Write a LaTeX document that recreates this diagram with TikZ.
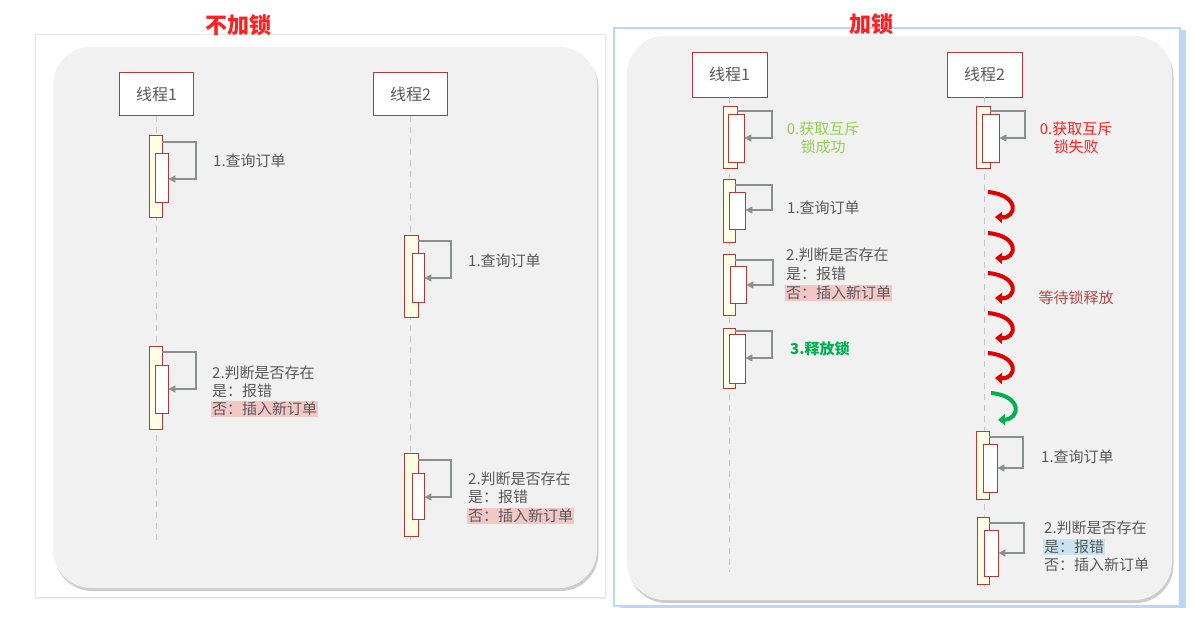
\documentclass[tikz,border=0pt]{standalone}
\usepackage{fontspec}
\setmainfont{Noto Sans CJK SC}
\usetikzlibrary{fit,shadows,arrows.meta}
\definecolor{txt}{HTML}{595959}
\definecolor{hdr}{HTML}{FF1F1F}
\definecolor{edge}{HTML}{B33A3A}
\definecolor{actbg}{HTML}{FFFDE3}
\definecolor{msg}{HTML}{8A8F8F}
\definecolor{panelbg}{HTML}{F1F1F1}
\definecolor{okgreen}{HTML}{92D050}
\definecolor{relgreen}{HTML}{00B050}
\definecolor{failred}{HTML}{FF2020}
\definecolor{waitred}{HTML}{E00000}
\definecolor{waitlbl}{HTML}{B5494A}
\definecolor{hlpink}{HTML}{F4C7C7}
\definecolor{hlblue}{HTML}{C8E4EF}
\definecolor{glow}{HTML}{BCD6F8}

\begin{document}
\begin{tikzpicture}[
  x=1pt,y=-1pt,
  every node/.style={text=txt},
  lbl/.style={font=\fontsize{15}{18}\selectfont,anchor=west,inner sep=1pt},
  thread/.style={rectangle,draw=edge,fill=white,line width=0.9pt,minimum width=74pt,minimum height=43pt,font=\fontsize{16}{18}\selectfont},
  callbox/.style={rectangle,draw=edge,fill=actbg,inner sep=0pt,line width=0.9pt},
  subbox/.style={rectangle,draw=edge,fill=white,inner sep=0pt,line width=0.9pt},
  lifeline/.style={draw=gray!45,dash pattern=on 6pt off 5pt,line width=1pt},
  selfmsg/.style={draw=msg,line width=1.3pt,-{Triangle[length=7pt,width=7pt]}},
  waitarr/.style={line width=4pt,-{Triangle[length=7pt,width=11pt]}},
  heading/.style={font=\fontsize{22}{24}\selectfont\bfseries,text=hdr},
  panel/.style={rectangle,rounded corners=38pt,fill=panelbg,inner sep=0pt,drop shadow={shadow xshift=1.5pt,shadow yshift=-3pt,opacity=0.4}}
]
\useasboundingbox (0,0) rectangle (1195,628);
\fill[white] (0,0) rectangle (1195,628);

% without lock
\node[rectangle,fill=white,draw=gray!20,inner sep=0pt,fit={(35,34)(605,597)},drop shadow={shadow xshift=0pt,shadow yshift=-1.5pt,opacity=0.15}] (frameL) {};
\node[panel,fit={(53,47)(597,588)}] (panelL) {};
\node[heading] (hdrL) at (238,25) {不加锁};

\node[thread] (t1L) at (156.5,94) {线程1};
\node[thread] (t2L) at (410.5,94) {线程2};
\coordinate (e1L) at (156.5,540);
\coordinate (e2L) at (410.5,540);
\draw[lifeline] (t1L) -- (e1L);
\draw[lifeline] (t2L) -- (e2L);

% with lock
\node[rectangle,fill=white,draw=glow,line width=1.5pt,inner sep=0pt,fit={(614,28)(1180,606)},drop shadow={shadow xshift=6pt,shadow yshift=-2pt,fill=glow,opacity=1}] (frameR) {};
\node[panel,fit={(627,36)(1172,600)}] (panelR) {};
\node[heading] (hdrR) at (871,24) {加锁};

\node[thread,minimum width=75pt,minimum height=45pt] (t1R) at (729.5,74.5) {线程1};
\node[thread,minimum width=75pt,minimum height=45pt] (t2R) at (984.5,74.5) {线程2};
\coordinate (e1R) at (729.5,572);
\coordinate (e2R) at (984.5,590);
\draw[lifeline] (t1R) -- (e1R);
\draw[lifeline] (t2R) -- (e2R);

% activations: outer box, inner box, self call
\foreach \n/\ax/\bx/\ay/\by/\cx/\dx/\cy/\dy/\ys/\xt/\ye in {
  la/149/162/135/217/155/168/153/202/142/196/179,
  lb/404/418/235/317/412/424/253/302/241/451/278,
  lc/149/162/346/429/155/168/365/413/352/196/389,
  ld/404/418/453/536/412/424/473/519/460/451/497,
  ra/723/737/106/168/728/744/114/162/111/772/138,
  rb/723/735/179/242/729/745/192/229/185/772/210,
  rc/723/735/254/315/730/746/266/303/260/773/285,
  rd/723/735/328/388/729/745/334/383/331/772/358,
  re/976/990/106/168/982/999/114/162/111/1025/138,
  rf/976/989/431/499/983/997/444/492/437/1023/468,
  rg/977/989/517/584/984/998/530/576/523/1024/553}
{
  \node[callbox,fit={(\ax,\ay)(\bx,\by)}] (o\n) {};
  \node[subbox,fit={(\cx,\cy)(\dx,\dy)}] (i\n) {};
  \draw[selfmsg] (o\n.east |- 0,\ys) -- (\xt,\ys) |- (i\n.east |- 0,\ye);
}

% waiting on the lock
\foreach \y in {207,248,288,328,368}
  \draw[waitarr,draw=waitred] (988,\y-15) .. controls (1020,\y-12) and (1017,\y+11) .. (995,\y+10);
\draw[waitarr,draw=relgreen] (991,393) .. controls (1023,396) and (1020,419) .. (998,420);

% labels, left
\node[lbl] (q1L) at (212,161) {1.查询订单};
\node[lbl] (q2L) at (467,261) {1.查询订单};
\node[lbl] (c1L) at (211,373) {2.判断是否存在};
\node[lbl] (y1L) at (211,391) {是：报错};
\node[lbl,fill=hlpink] (n1L) at (211,409) {否：插入新订单};
\node[lbl] (c2L) at (467,479) {2.判断是否存在};
\node[lbl] (y2L) at (467,497) {是：报错};
\node[lbl,fill=hlpink] (n2L) at (467,516) {否：插入新订单};

% labels, right
\node[lbl,anchor=center,align=center,text=okgreen] (okR) at (823,138) {0.获取互斥\\锁成功};
\node[lbl] (q1R) at (786,208) {1.查询订单};
\node[lbl] (c1R) at (785,255) {2.判断是否存在};
\node[lbl] (y1R) at (785,274) {是：报错};
\node[lbl,fill=hlpink] (n1R) at (785,293) {否：插入新订单};
\node[lbl,text=relgreen,font=\fontsize{15}{18}\selectfont\bfseries] (relR) at (789,349) {3.释放锁};
\node[lbl,anchor=center,align=center,text=failred] (failR) at (1076,138) {0.获取互斥\\锁失败};
\node[lbl,anchor=center,text=waitlbl] (waitR) at (1076,298) {等待锁释放};
\node[lbl] (q2R) at (1040,457) {1.查询订单};
\node[lbl] (c2R) at (1043,528) {2.判断是否存在};
\node[lbl,fill=hlblue] (y2R) at (1043,547) {是：报错};
\node[lbl] (n2R) at (1043,565) {否：插入新订单};
\end{tikzpicture}
\end{document}
